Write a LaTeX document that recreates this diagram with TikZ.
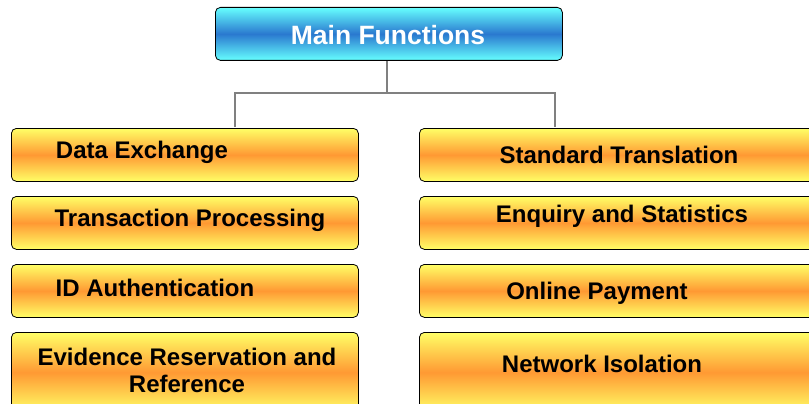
\documentclass[tikz,border=0pt]{standalone}
\usepackage{fontspec}
\setmainfont{Liberation Sans}
\definecolor{ylw}{HTML}{FFFF66}
\definecolor{org}{HTML}{FF9933}
\definecolor{cyn}{HTML}{66FFFF}
\definecolor{blu}{HTML}{2A78CF}
\definecolor{lnk}{HTML}{808080}
\tikzset{
  ybox/.style={draw=black, line width=0.8pt, rounded corners=5pt, top color=ylw, bottom color=ylw, middle color=org},
  bbox/.style={draw=black, line width=0.8pt, rounded corners=5pt, top color=cyn, bottom color=cyn, middle color=blu},
  lbl/.style={font=\bfseries\fontsize{24}{27}\selectfont, inner sep=0pt, align=center},
  link/.style={draw=lnk, line width=1.6pt}
}
\begin{document}
\begin{tikzpicture}[x=1pt,y=-1pt]
\useasboundingbox (0,0) rectangle (809,404);
\clip (0,0) rectangle (809,404);
% top
\node[bbox, minimum width=347pt, minimum height=53pt, anchor=north west] (main) at (215,7) {};
\node[font=\bfseries\fontsize{26.5}{30}\selectfont, text=white, inner sep=0pt] (maint) at (388,35) {Main Functions};
% left boxes
\node[ybox, minimum width=347pt, minimum height=53pt, anchor=north west] (l1) at (11,128) {};
\node[ybox, minimum width=347pt, minimum height=53pt, anchor=north west] (l2) at (11,196) {};
\node[ybox, minimum width=347pt, minimum height=53pt, anchor=north west] (l3) at (11,264) {};
\node[ybox, minimum width=347pt, minimum height=80pt, anchor=north west] (l4) at (11,332) {};
% right boxes
\node[ybox, minimum width=400pt, minimum height=53pt, anchor=north west] (r1) at (419,128) {};
\node[ybox, minimum width=400pt, minimum height=53pt, anchor=north west] (r2) at (419,196) {};
\node[ybox, minimum width=400pt, minimum height=53pt, anchor=north west] (r3) at (419,264) {};
\node[ybox, minimum width=400pt, minimum height=80pt, anchor=north west] (r4) at (419,332) {};
% labels
\node[lbl] (t1) at (142,152) {Data Exchange};
\node[lbl] (t2) at (190,220) {Transaction Processing};
\node[lbl] (t3) at (155,288) {ID Authentication};
\node[lbl] (t4) at (187,370) {Evidence Reservation and\\Reference};
\node[lbl] (u1) at (619,155) {Standard Translation};
\node[lbl] (u2) at (622,216) {Enquiry and Statistics};
\node[lbl] (u3) at (597,293) {Online Payment};
\node[lbl] (u4) at (602,364) {Network Isolation};
% connectors
\coordinate (jl) at (235,93);
\coordinate (jr) at (555,93);
\draw[link] (main.south -| 387,0) -- (387,93);
\draw[link] (235,127) -- (jl) -- (jr) -- (555,127);
\end{tikzpicture}
\end{document}
